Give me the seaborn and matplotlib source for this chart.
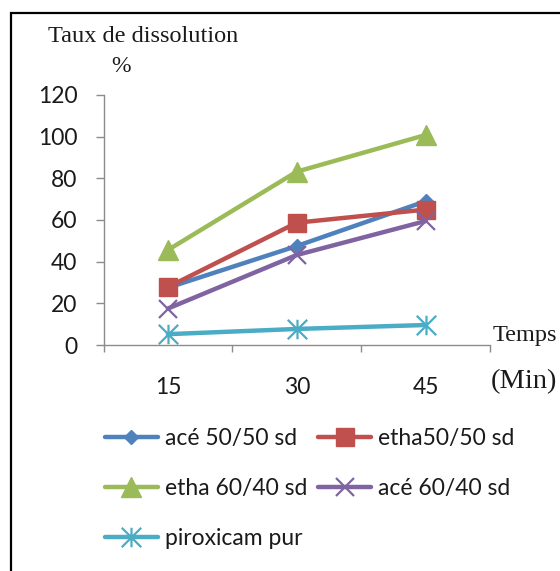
import numpy as np
import pandas as pd
import seaborn as sns
import matplotlib
matplotlib.use("Agg")
import matplotlib.pyplot as plt
from matplotlib.path import Path
from matplotlib.patches import Rectangle

# ---- data ----
times = ["15", "30", "45"]
series_names = ["acé 50/50 sd", "etha50/50 sd", "etha 60/40 sd", "acé 60/40 sd", "piroxicam pur"]
ace_50_50 = [27.5, 47.5, 69.0]
etha_50_50 = [27.8, 58.7, 65.0]
etha_60_40 = [45.6, 83.2, 100.8]
ace_60_40 = [17.5, 43.2, 59.5]
piroxicam_pur = [5.2, 7.7, 9.6]
y_ticks = [0, 20, 40, 60, 80, 100, 120]

all_values = [ace_50_50, etha_50_50, etha_60_40, ace_60_40, piroxicam_pur]

# ---- styles ----
colors = ["#4F81BD", "#C0504D", "#9BBB59", "#8064A2", "#4BACC6"]
star = Path([(0, -1), (0, 1), (-1, -1), (1, 1), (-1, 1), (1, -1)],
            [Path.MOVETO, Path.LINETO] * 3)
markers = ["D", "s", "^", "x", star]
msizes = [7.5, 13, 14, 13, 14]
mews = [1, 1, 1, 1.6, 1.6]

sns.set_theme(style="white")
plt.rcParams["font.family"] = ["Lato", "DejaVu Sans"]

W, H = 560, 571
fig = plt.figure(figsize=(W / 100, H / 100), dpi=100)
fig.patch.set_facecolor("white")

ax = fig.add_axes([103.5 / W, (H - 345) / H, 386.5 / W, 250 / H])

for name, vals, c, m, ms, mew in zip(series_names, all_values, colors, markers, msizes, mews):
    sns.lineplot(x=times, y=vals, ax=ax, color=c, marker=m, markersize=ms,
                 markeredgecolor=c, markerfacecolor=c, markeredgewidth=mew,
                 linewidth=3.2, label=name, legend=False, sort=False)

ax.set_ylim(0, 120)
ax.set_xlim(-0.5, len(times) - 0.5)
ax.set_yticks(y_ticks)
ax.set_yticklabels([str(v) for v in y_ticks])
ax.set_xticks(np.arange(len(times) + 1) - 0.5)
ax.set_xticklabels([])
ax.set_xticks(np.arange(len(times)), minor=True)
ax.set_xticklabels(times, minor=True)
ax.set_xlabel("")
ax.set_ylabel("")

gray = "#8C8C8C"
for s in ["top", "right"]:
    ax.spines[s].set_visible(False)
for s in ["left", "bottom"]:
    ax.spines[s].set_color(gray)
    ax.spines[s].set_linewidth(1.0)
ax.tick_params(axis="y", which="major", direction="out", length=5.8, width=1, color=gray,
               labelsize=16.5, labelcolor="#1a1a1a", pad=13, left=True)
ax.tick_params(axis="x", which="major", direction="out", length=5, width=1, color=gray,
               bottom=True)
ax.tick_params(axis="x", which="minor", length=0, labelsize=16.5, labelcolor="#1a1a1a", pad=23,
               bottom=True)
ax.grid(False)

# legend: row-wise order (matplotlib fills columns first)
lines = ax.get_lines()[:len(series_names)]
order = [0, 2, 4, 1, 3]
leg = fig.legend([lines[i] for i in order], [series_names[i] for i in order],
                 ncol=2, loc="upper left",
                 bbox_to_anchor=(105 / W, 1 - 428 / H), frameon=False,
                 fontsize=16.5, handlelength=2.3, handletextpad=0.3,
                 columnspacing=0.5, labelspacing=1.27, borderpad=0, borderaxespad=0)
for t in leg.get_texts():
    t.set_color("#1a1a1a")

# annotations
serif = ["Liberation Serif", "DejaVu Serif"]
fig.text(48 / W, 1 - 42 / H, "Taux de dissolution", family=serif, fontsize=17.5,
         ha="left", va="baseline", color="#1a1a1a")
fig.text(111 / W, 1 - 72 / H, "%", family=serif, fontsize=17, ha="left", va="baseline",
         color="#1a1a1a")
fig.text(493 / W, 1 - 341.5 / H, "Temps", family=serif, fontsize=17.5, ha="left",
         va="baseline", color="#1a1a1a")
fig.text(491 / W, 1 - 388 / H, "(Min)", family=serif, fontsize=20.5, ha="left",
         va="baseline", color="#1a1a1a")

# outer frame (clipped at right/bottom edges)
fig.patches.append(Rectangle((11 / W, -0.2), 2.0, 1 - 13 / H + 0.2, transform=fig.transFigure,
                             fill=False, edgecolor="black", linewidth=1.6))

fig.savefig("out.png", dpi=100, facecolor="white")
